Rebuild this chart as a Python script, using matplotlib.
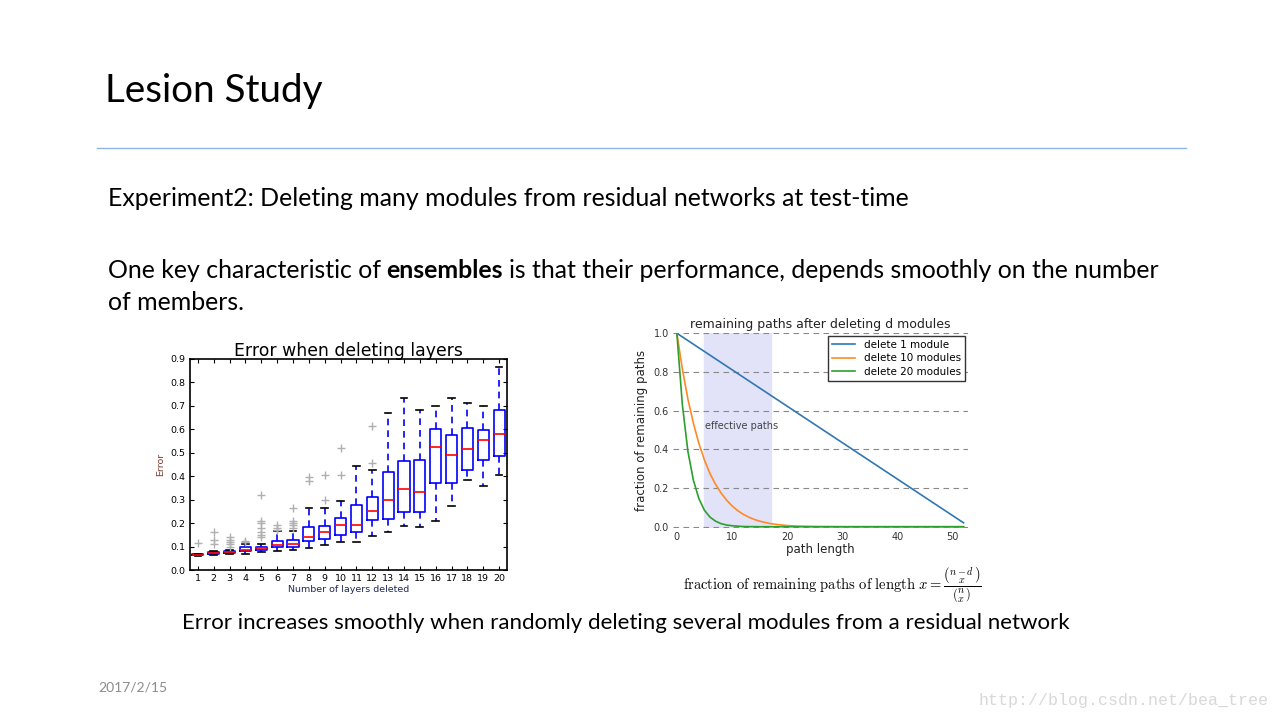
import matplotlib
matplotlib.use('Agg')
import matplotlib.pyplot as plt

plt.rcParams['mathtext.fontset'] = 'cm'

# left chart: box statistics
layers = list(range(1, 21))
med = [0.065, 0.072, 0.075, 0.085, 0.093, 0.105, 0.110, 0.139, 0.161, 0.190,
       0.190, 0.250, 0.297, 0.344, 0.333, 0.523, 0.490, 0.515, 0.553, 0.579]
q1 = [0.062, 0.067, 0.071, 0.080, 0.085, 0.097, 0.100, 0.122, 0.134, 0.151,
      0.161, 0.212, 0.216, 0.246, 0.246, 0.370, 0.370, 0.425, 0.468, 0.485]
q3 = [0.068, 0.077, 0.080, 0.098, 0.100, 0.123, 0.130, 0.182, 0.186, 0.220,
      0.276, 0.310, 0.417, 0.464, 0.468, 0.600, 0.574, 0.604, 0.596, 0.681]
whislo = [0.060, 0.063, 0.068, 0.070, 0.075, 0.080, 0.085, 0.092, 0.105, 0.119,
          0.119, 0.144, 0.161, 0.186, 0.182, 0.209, 0.272, 0.382, 0.357, 0.404]
whishi = [0.070, 0.080, 0.085, 0.110, 0.112, 0.165, 0.165, 0.263, 0.263, 0.293,
          0.442, 0.425, 0.668, 0.734, 0.681, 0.698, 0.734, 0.711, 0.698, 0.864]
fliers = [[0.115], [0.11, 0.13, 0.16], [0.10, 0.11, 0.12, 0.13, 0.14], [0.12, 0.125],
          [0.14, 0.15, 0.16, 0.18, 0.20, 0.21, 0.32], [0.17, 0.18, 0.19],
          [0.18, 0.19, 0.20, 0.21, 0.265], [0.381, 0.398], [0.299, 0.405],
          [0.405, 0.522], [], [0.458, 0.616], [], [], [], [], [], [], [], []]

# right chart: curves
x_d1 = [0, 52]
y_d1 = [1.0, 0.02]
x_d10 = [0, 1, 2, 3, 4, 5, 6, 7, 8, 9, 10, 11, 12, 13, 14, 15, 16, 17, 18, 19, 20, 22, 25, 30, 52]
y_d10 = [1.0, 0.815, 0.66, 0.535, 0.43, 0.345, 0.275, 0.22, 0.175, 0.138, 0.108, 0.084,
         0.065, 0.05, 0.038, 0.029, 0.022, 0.016, 0.012, 0.009, 0.006, 0.003, 0.001, 0.0, 0.0]
x_d20 = [0, 1, 2, 3, 4, 5, 6, 7, 8, 9, 10, 12, 15, 52]
y_d20 = [1.0, 0.63, 0.39, 0.24, 0.145, 0.085, 0.05, 0.029, 0.016, 0.009, 0.005, 0.001, 0.0, 0.0]
effective = (5, 17)

fig = plt.figure(figsize=(12.8, 7.2), dpi=100)
bg = fig.add_axes([0, 0, 1, 1])
bg.set_xlim(0, 1280)
bg.set_ylim(720, 0)
bg.axis('off')

slide_font = 'Lato'
body = 17.9
bg.text(105, 91, 'Lesion Study', fontsize=27.8, family=slide_font, va='center', color='black')
bg.plot([97, 1186], [148, 148], color='#8db4e2', lw=1)
bg.text(108, 199, 'Experiment2: Deleting many modules from residual networks at test-time',
        fontsize=body, family=slide_font, va='center')
t1 = bg.text(108, 271, 'One key characteristic of', fontsize=body, family=slide_font, va='center')
t2 = bg.annotate('ensembles', xy=(1, 0), xycoords=t1, xytext=(4, 0), textcoords='offset points',
                 fontsize=body, family=slide_font, weight='bold', va='bottom', ha='left')
bg.annotate('is that their performance, depends smoothly on the number', xy=(1, 0), xycoords=t2,
            xytext=(4, 0), textcoords='offset points',
            fontsize=body, family=slide_font, va='bottom', ha='left')
bg.text(108, 302, 'of members.', fontsize=body, family=slide_font, va='center')
bg.text(182, 623, 'Error increases smoothly when randomly deleting several modules from a residual network',
        fontsize=16.0, family=slide_font, va='center')
bg.text(98, 688, '2017/2/15', fontsize=10, family=slide_font, va='center', color='#8c8c8c')
bg.text(1268, 700, 'http://blog.csdn.net/bea_tree', fontsize=12, family='Liberation Mono',
        va='center', ha='right', color='#d8d8d8')
bg.text(832, 585, r'$\mathrm{fraction\ of\ remaining\ paths\ of\ length}\ x = '
        r'\dfrac{\binom{n-d}{x}}{\binom{n}{x}}$', fontsize=10.5, ha='center', va='center')

# left chart
ax1 = fig.add_axes([190 / 1280, 1 - 570 / 720, 317 / 1280, 211 / 720])
stats = []
for i in range(len(layers)):
    stats.append(dict(med=med[i], q1=q1[i], q3=q3[i], whislo=whislo[i],
                      whishi=whishi[i], fliers=fliers[i]))
ax1.bxp(stats, positions=layers, widths=0.7, capwidths=0.42,
        boxprops=dict(color='blue', lw=1.2),
        whiskerprops=dict(color='blue', lw=1.2, linestyle=(0, (4, 3))),
        capprops=dict(color='black', lw=1.2),
        medianprops=dict(color='red', lw=1.2),
        flierprops=dict(marker='+', markeredgecolor='#b0b0b0', markersize=6, lw=0))
ax1.set_xlim(0.5, 20.5)
ax1.set_ylim(0, 0.9)
ax1.set_yticks([0.0, 0.1, 0.2, 0.3, 0.4, 0.5, 0.6, 0.7, 0.8, 0.9])
ax1.set_xticks(layers)
ax1.set_xticklabels([str(v) for v in layers])
ax1.tick_params(direction='in', top=True, right=True, labelsize=6.8, length=3, pad=3)
ax1.set_title('Error when deleting layers', fontsize=12.4, pad=2)
ax1.set_ylabel('Error', fontsize=6.8, color='#7a3b2e', labelpad=4)
ax1.set_xlabel('Number of layers deleted', fontsize=6.8, color='#1f2a55', labelpad=1)
for s in ax1.spines.values():
    s.set_linewidth(1.2)

# right chart
ax2 = fig.add_axes([673 / 1280, 1 - 527.5 / 720, 295 / 1280, 195 / 720])
ax2.axvspan(effective[0], effective[1], color='#e2e2f8', zorder=0)
ax2.plot(x_d1, y_d1, color='#2f78b4', lw=1.2, label='delete 1 module')
ax2.plot(x_d10, y_d10, color='#ff8a24', lw=1.2, label='delete 10 modules')
ax2.plot(x_d20, y_d20, color='#2ca02c', lw=1.2, label='delete 20 modules')
ax2.set_xlim(-0.7, 52.8)
ax2.set_ylim(-0.004, 1.004)
ax2.set_yticks([0.0, 0.2, 0.4, 0.6, 0.8, 1.0])
ax2.set_yticklabels(['0.0', '0.2', '0.4', '0.6', '0.8', '1.0'])
ax2.set_xticks([0, 10, 20, 30, 40, 50])
ax2.grid(axis='y', color='#888888', linestyle=(0, (5, 4)), lw=0.8)
ax2.set_axisbelow(True)
for s in ax2.spines.values():
    s.set_visible(False)
ax2.tick_params(length=0, labelsize=7, labelcolor='#333333', pad=3)
ax2.text(5.1, 0.52, 'effective paths', fontsize=7, color='#444444', va='center')
ax2.set_title('remaining paths after deleting d modules', fontsize=9, pad=3, color='#222222')
ax2.set_ylabel('fraction of remaining paths', fontsize=8.5, color='#222222', labelpad=4)
ax2.set_xlabel('path length', fontsize=8.5, color='#222222', labelpad=1)
leg = ax2.legend(loc='upper right', fontsize=7.5, frameon=True, fancybox=False,
                 borderaxespad=0.3, handlelength=2.2, borderpad=0.4, labelspacing=0.35)
leg.get_frame().set_edgecolor('#333333')
leg.get_frame().set_linewidth(1.0)
leg.get_frame().set_alpha(1)

fig.savefig('out.png', dpi=100)
